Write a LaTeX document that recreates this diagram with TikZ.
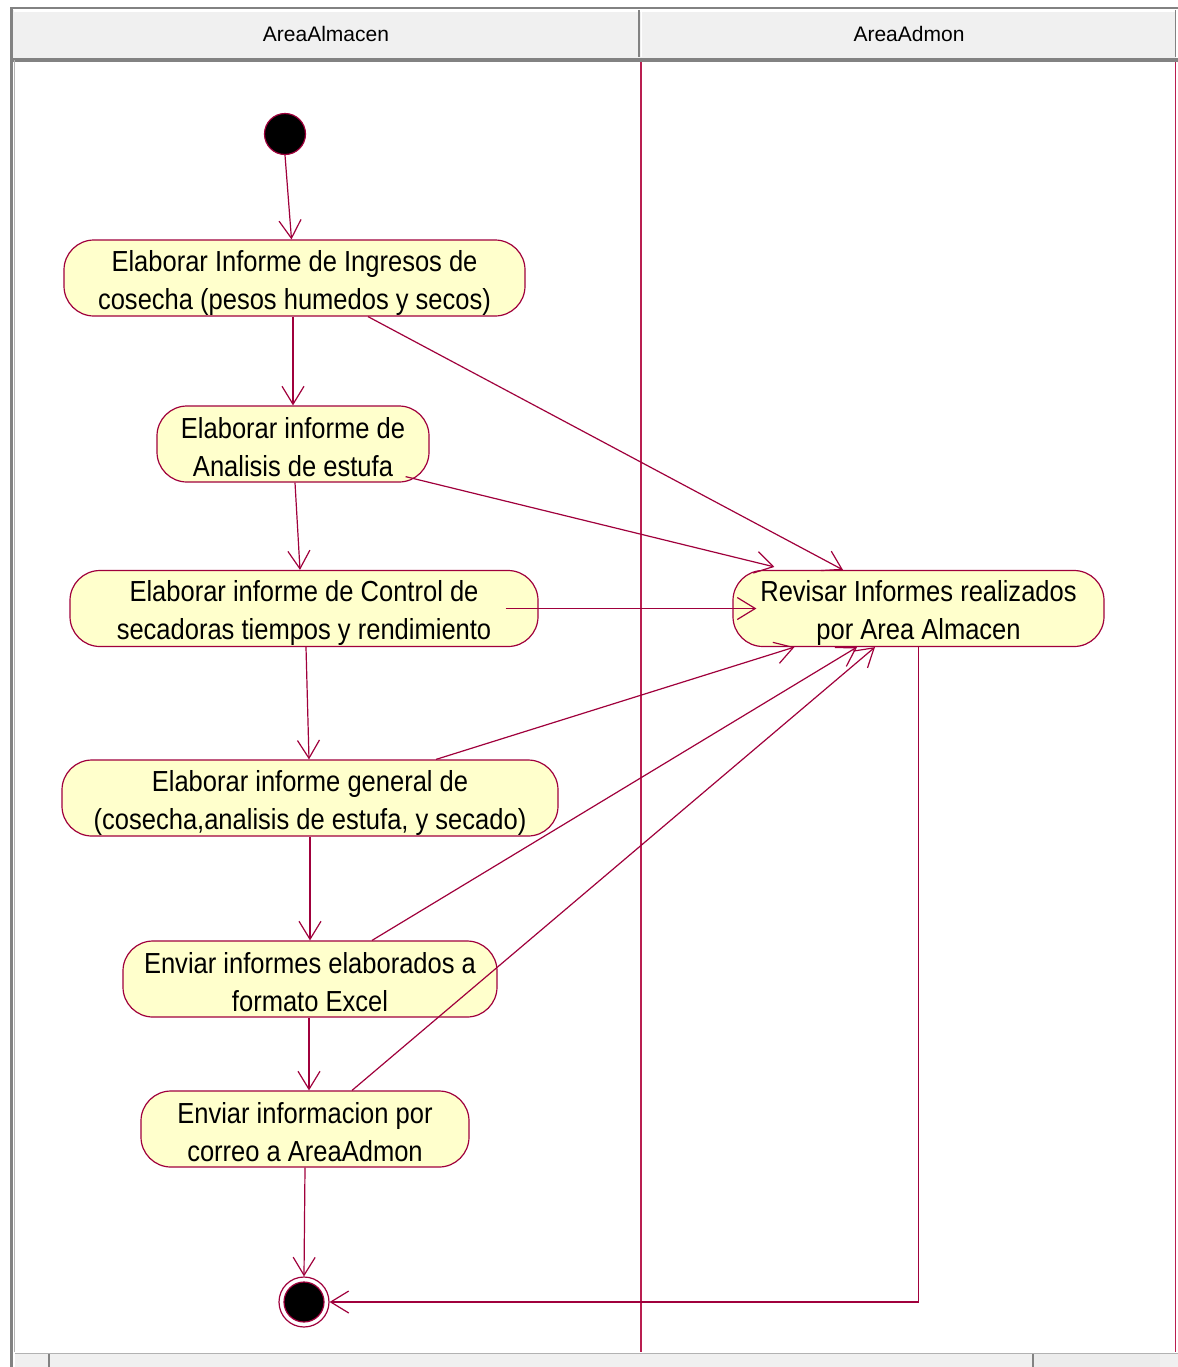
\documentclass[tikz,border=0pt]{standalone}
\usepackage{fontspec}
\setmainfont{Liberation Sans}[FakeStretch=0.88]
\newfontfamily\hdrfont{Liberation Sans}
\usetikzlibrary{arrows.meta,calc}
\definecolor{umlred}{RGB}{160,0,60}
\definecolor{lanered}{RGB}{185,30,80}
\definecolor{actfill}{RGB}{255,255,204}
\definecolor{hdrgray}{RGB}{240,240,240}
\definecolor{frgray}{RGB}{130,130,130}
\newcommand\ltop{\rule{0pt}{15pt}}
\newcommand\lbot{\rule[-2pt]{0pt}{2pt}}
\begin{document}
\begin{tikzpicture}[x=0.5pt,y=-0.5pt,
  act/.style={draw=umlred,fill=actfill,rounded corners=15pt,minimum height=38pt,inner sep=0pt,align=center,font=\fontsize{14.5}{19}\selectfont,line width=0.6pt},
  flow/.style={draw=umlred,line width=0.6pt,-{Straight Barb[length=9pt,width=11pt]}},
  lane/.style={draw=lanered,line width=0.8pt},
  hdr/.style={font=\hdrfont\fontsize{10.5}{12}\selectfont,text=black}]
% canvas
\path[use as bounding box,fill=white] (0,0) rectangle (1178,1367);
% header band
\fill[hdrgray] (12,10) rectangle (1176,58);
\draw[frgray,line width=1pt] (10,8) -- (1178,8);
\draw[white,line width=0.8pt] (14,11) -- (1175,11);
\draw[frgray,line width=0.8pt] (639,10) -- (639,57);
\draw[white,line width=0.8pt] (641.5,11) -- (641.5,57);
\draw[frgray,line width=0.8pt] (1175.5,10) -- (1175.5,57);
\draw[frgray,line width=2pt] (12,60) -- (1178,60);
% left border
\draw[frgray,line width=1.5pt] (11,8) -- (11,1367);
\draw[frgray!60,line width=0.8pt] (14.5,60) -- (14.5,1352);
% scrollbar
\fill[hdrgray] (15,1353) rectangle (1178,1367);
\fill[gray!15] (1034,1354) rectangle (1160,1367);
\draw[gray!60,line width=0.5pt] (15,1353) -- (1178,1353);
\draw[frgray,line width=0.8pt] (49,1354) -- (49,1367);
\draw[frgray,line width=0.8pt] (1033,1354) -- (1033,1367);
\node[hdr] (h1) at (326,34) {AreaAlmacen};
\node[hdr] (h2) at (909,34) {AreaAdmon};
% lanes
\draw[lane] (641,62) -- (641,1352);
\draw[lane] (1175.5,62) -- (1175.5,1352);
% nodes
\node[circle,fill=black,draw=umlred,line width=0.6pt,minimum width=19pt,minimum height=20.5pt,inner sep=0pt] (start) at (285,134) {};
\node[act,minimum width=230.5pt] (a1) at (294.5,278) {\ltop Elaborar Informe de Ingresos de\\cosecha (pesos humedos y secos)\lbot};
\node[act,minimum width=136pt] (a2) at (293,444) {\ltop Elaborar informe de\\Analisis de estufa\lbot};
\node[act,minimum width=234pt] (a3) at (304,608.5) {\ltop Elaborar informe de Control de\\secadoras tiempos y rendimiento\lbot};
\node[act,minimum width=248pt] (a4) at (310,798) {\ltop Elaborar informe general de\\(cosecha,analisis de estufa, y secado)\lbot};
\node[act,minimum width=187pt] (a5) at (310,979) {\ltop Enviar informes elaborados a\\formato Excel\lbot};
\node[act,minimum width=164pt] (a6) at (305,1129) {\ltop Enviar informacion por\\correo a AreaAdmon\lbot};
\node[act,minimum width=185.5pt] (r) at (918.5,608.5) {\ltop Revisar Informes realizados\\por Area Almacen\lbot};
\node[circle,draw=umlred,line width=0.6pt,minimum size=25pt,inner sep=0pt] (end) at (304,1302) {};
\node[circle,fill=black,draw=umlred,line width=0.6pt,minimum width=18.5pt,minimum height=20pt,inner sep=0pt] (endin) at (end) {};
% flows
\draw[flow] (start.south) -- ($(a1.north)+(-3,0)$);
\draw[flow] ($(a1.south)+(-1.5,0)$) -- (a2.north);
\draw[flow] ($(a2.south)+(2,0)$) -- ($(a3.north)+(-4,0)$);
\draw[flow] ($(a3.south)+(2,0)$) -- ($(a4.north)+(-1,0)$);
\draw[flow] (a4.south) -- (a5.north);
\draw[flow] ($(a5.south)+(-1,0)$) -- ($(a6.north)+(4,0)$);
\draw[flow] (a6.south) -- (end.north);
\draw[flow] ($(a1.south)+(73.5,0)$) -- ($(r.north)+(-75.5,0)$);
\draw[flow] ($(a2.south east)+(-24,-6)$) -- ($(r.north west)+(42,-3)$);
\draw[flow] ($(a3.east)+(-33,0)$) -- ($(r.west)+(24,0)$);
\draw[flow] ($(a4.north)+(126,0)$) -- ($(r.south west)+(62,0)$);
\draw[flow] ($(a5.north)+(62,0)$) -- ($(r.south)+(-61.5,0)$);
\draw[flow] ($(a6.north)+(47,0)$) -- ($(r.south)+(-43.5,0)$);
\draw[flow] (r.south) |- (end.east);
\end{tikzpicture}
\end{document}
